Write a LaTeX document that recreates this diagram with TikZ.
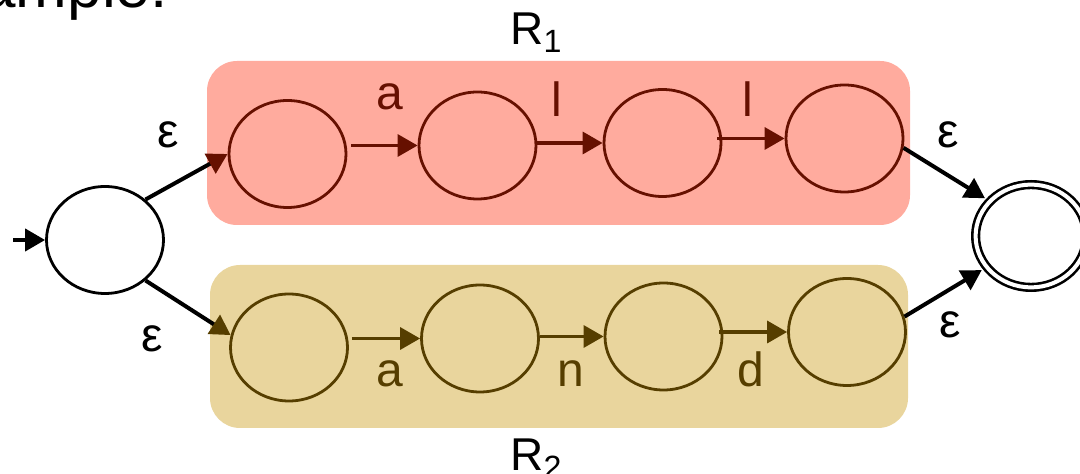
\documentclass[tikz,border=0pt]{standalone}
\usepackage{fontspec}
\setmainfont{Liberation Sans}
\usetikzlibrary{arrows.meta,shapes.geometric}
\definecolor{rfill}{RGB}{255,171,158}
\definecolor{tfill}{RGB}{233,213,157}
\definecolor{rline}{RGB}{102,16,0}
\definecolor{tline}{RGB}{86,62,0}
\begin{document}
\begin{tikzpicture}[x=0.5pt,y=-0.5pt,
  state/.style={ellipse,draw,line width=1.4pt,inner sep=0pt,minimum width=58.5pt,minimum height=53.5pt},
  rstate/.style={state,draw=rline},
  tstate/.style={state,draw=tline},
  fstate/.style={ellipse,draw,line width=1.3pt,double,double distance=2pt,inner sep=0pt,minimum width=55.4pt,minimum height=51.4pt},
  tip/.style={-{Triangle[length=10pt,width=11pt]}},
  rtr/.style={line width=1.7pt,draw=rline,-{Triangle[length=10pt,width=11pt,color=rline]}},
  ttr/.style={line width=1.7pt,draw=tline,-{Triangle[length=10pt,width=11pt,color=tline]}},
  eps/.style={line width=2pt,draw=black},
  lab/.style={font=\fontsize{24pt}{28pt}\selectfont,inner sep=0pt,anchor=base},
  rlab/.style={font=\fontsize{23pt}{27pt}\selectfont,inner sep=0pt,anchor=base west}]
\useasboundingbox (0,0) rectangle (1080,474);
% boxes
\fill[rfill,rounded corners=15pt] (207,61) rectangle (910,225);
\fill[tfill,rounded corners=15pt] (210,265) rectangle (908,428);
% heading fragment
\node[font=\fontsize{31pt}{34pt}\selectfont,inner sep=0pt,anchor=base east] (head) at (168,8) {ample:};
% states
\node[state] (S) at (105,240) {};
\node[rstate] (A1) at (287.5,154) {};
\node[rstate] (A2) at (477.5,145.5) {};
\node[rstate] (A3) at (662.5,143) {};
\node[rstate] (A4) at (844.5,138.5) {};
\node[tstate] (B1) at (289,347.5) {};
\node[tstate] (B2) at (480,338.5) {};
\node[tstate] (B3) at (663.5,336.5) {};
\node[tstate] (B4) at (847,332) {};
\node[fstate] (F) at (1031,236) {};
% start arrow
\coordinate (s0) at (13,240);
\draw[eps,tip] (s0) -- (S.west);
% epsilon arrows
\draw[eps,-{Triangle[length=10pt,width=11pt,color=rline]}] (S.45) -- (A1.west);
\draw[eps,-{Triangle[length=10pt,width=11pt,color=tline]}] (S.-45) -- (B1.168);
\draw[eps,tip,shorten >=2.3pt] (A4.-9) -- (F.140);
\draw[eps,tip,shorten >=2.3pt] (B4.15) -- (F.215);
% R1 transitions
\draw[rtr] ([xshift=2pt]A1.east |- A2.west) -- (A2.west);
\draw[rtr] (A2.east |- A3.west) -- (A3.west);
\draw[rtr] ([xshift=-2.5pt]A3.east |- A4.west) -- (A4.west);
% R2 transitions
\draw[ttr] ([xshift=1.5pt]B1.east |- B2.west) -- (B2.west);
\draw[ttr] (B2.east |- B3.west) -- (B3.west);
\draw[ttr] ([xshift=-2pt]B3.east |- B4.west) -- (B4.west);
% labels
\node[lab,text=rline] (la1) at (390,110) {a};
\node[lab,text=rline] (ll1) at (557,117) {l};
\node[lab,text=rline] (ll2) at (748,117) {l};
\node[lab,text=tline] (lb1) at (390,387) {a};
\node[lab,text=tline] (lb2) at (571,387) {n};
\node[lab,text=tline] (lb3) at (751,387) {d};
\node[lab] (e1) at (168,148) {ε};
\node[lab] (e2) at (152,352) {ε};
\node[lab] (e3) at (948,148) {ε};
\node[lab] (e4) at (950,338) {ε};
\node[rlab] (R1) at (510,45) {R\textsubscript{1}};
\node[rlab] (R2) at (510,471) {R\textsubscript{2}};
\end{tikzpicture}
\end{document}
